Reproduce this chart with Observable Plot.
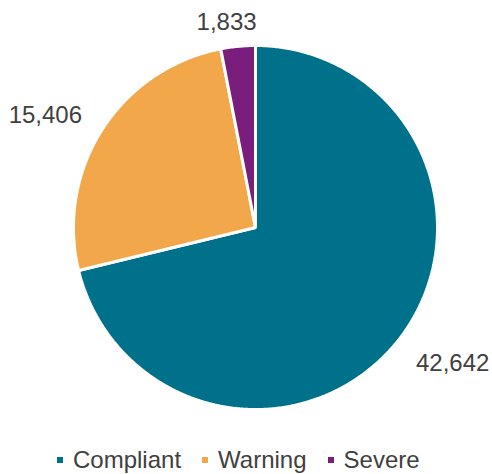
<!DOCTYPE html>
<html>
<head>
<meta charset="utf-8">
<script src="https://cdn.jsdelivr.net/npm/d3@7"></script>
<script src="https://cdn.jsdelivr.net/npm/@observablehq/plot@0.6"></script>
<style>
  html, body { margin: 0; padding: 0; background: #fff; }
  #chart svg { display: block; }
  .legend { display: flex; align-items: center; height: 29px; padding-left: 57px;
    font-family: "Liberation Sans", Arial, sans-serif; font-size: 24px; color: #404040; }
  .legend .item { display: flex; align-items: center; margin-right: 21px; }
  .legend .sw { width: 6px; height: 6px; margin-right: 10px; }
</style>
</head>
<body>
<div id="chart"></div>
<script>
const categories = ["Compliant", "Warning", "Severe"];
const values = [42642, 15406, 1833];
const colors = ["#00718A", "#F2A84A", "#7A1E7D"];

// Build slice outlines in unit-circle coordinates (clockwise from 12 o'clock)
const pieData = d3.pie().sort(null).value(d => d.value)(
  categories.map((name, i) => ({name, value: values[i]}))
);
const slicePts = [];
for (const s of pieData) {
  slicePts.push({name: s.data.name, x: 0, y: 0});
  const n = Math.max(4, Math.ceil((s.endAngle - s.startAngle) / (Math.PI / 360)));
  for (let k = 0; k <= n; k++) {
    const a = s.startAngle + (s.endAngle - s.startAngle) * k / n;
    slicePts.push({name: s.data.name, x: Math.sin(a), y: Math.cos(a)});
  }
}
// label placement nudges (pixels), per slice in order
const nudges = [[6, 5], [-8, 2], [-10, -2]];
const labels = pieData.map((s, i) => {
  const a = (s.startAngle + s.endAngle) / 2;
  const sx = Math.sin(a), cy = Math.cos(a);
  return {
    text: d3.format(",")(s.data.value),
    x: 1.08 * sx, y: 1.08 * cy,
    anchor: sx > 0.2 ? "start" : sx < -0.2 ? "end" : "middle",
    line: cy > 0.2 ? "bottom" : cy < -0.2 ? "top" : "middle",
    i
  };
});

const plot = Plot.plot({
  width: 492,
  height: 445,
  marginLeft: 73,
  marginRight: 55,
  marginTop: 45,
  marginBottom: 36,
  x: {domain: [-1, 1], axis: null},
  y: {domain: [-1, 1], axis: null},
  color: {domain: categories, range: colors},
  style: {fontFamily: "'Liberation Sans', Arial, sans-serif"},
  marks: [
    Plot.line(slicePts, {x: "x", y: "y", z: "name", fill: "name", stroke: "white",
      strokeWidth: 3, curve: "linear-closed", strokeLinejoin: "miter"}),
    ...labels.map(d => Plot.text([d], {
      x: "x", y: "y", text: "text", textAnchor: d.anchor, lineAnchor: d.line,
      dx: nudges[d.i][0], dy: nudges[d.i][1],
      fontSize: 24, fill: "#404040"
    }))
  ]
});
document.getElementById("chart").appendChild(plot);

const legend = document.createElement("div");
legend.className = "legend";
categories.forEach((c, i) => {
  const it = document.createElement("div");
  it.className = "item";
  const sw = document.createElement("span");
  sw.className = "sw";
  sw.style.background = colors[i];
  const t = document.createElement("span");
  t.textContent = c;
  it.appendChild(sw); it.appendChild(t);
  legend.appendChild(it);
});
document.getElementById("chart").appendChild(legend);
</script>
</body>
</html>
